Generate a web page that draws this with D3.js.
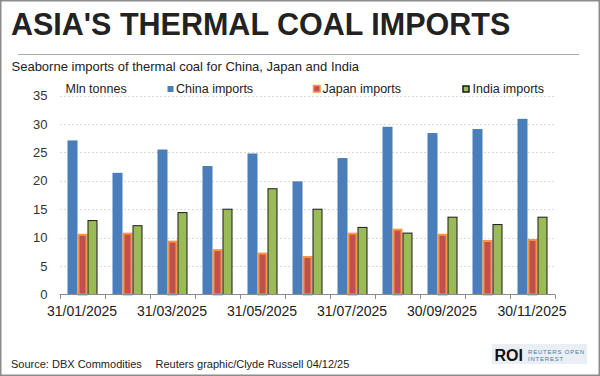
<!DOCTYPE html>
<html>
<head>
<meta charset="utf-8">
<script src="https://cdn.jsdelivr.net/npm/d3@7"></script>
<style>
  body { margin: 0; background: #fff; }
  svg { display: block; font-family: "Liberation Sans", Arial, sans-serif; }
</style>
</head>
<body>
<svg width="600" height="376"></svg>
<script>
// month-end dates (categories)
const dates = ["31/01/2025","28/02/2025","31/03/2025","30/04/2025","31/05/2025","30/06/2025",
               "31/07/2025","31/08/2025","30/09/2025","31/10/2025","30/11/2025"];
// Mln tonnes
const china = [27.1, 21.4, 25.5, 22.6, 24.8, 19.9, 24.0, 29.5, 28.4, 29.1, 30.9];
const japan = [10.5, 10.7, 9.3, 7.8, 7.2, 6.6, 10.7, 11.4, 10.5, 9.4, 9.6];
const india = [13.0, 12.1, 14.4, 15.0, 18.6, 15.0, 11.8, 10.8, 13.6, 12.3, 13.6];
const seriesNames = ["China imports", "Japan imports", "India imports"];
const yTicks = [0, 5, 10, 15, 20, 25, 30, 35];

const svg = d3.select("svg");
const width = +svg.attr("width");
const height = +svg.attr("height");

const fills = { "China imports": "#4a7ebb", "Japan imports": "#c0504d", "India imports": "#9bbb59" };
const strokes = { "China imports": "none", "Japan imports": "#f79646", "India imports": "#1a1a1a" };
const strokeW = { "China imports": 0, "Japan imports": 2, "India imports": 1 };

// frame
svg.append("rect")
  .attr("x", 0.75).attr("y", 0.75)
  .attr("width", width - 1.5).attr("height", height - 1.5)
  .attr("fill", "#fff").attr("stroke", "#8c8c8c").attr("stroke-width", 1.5);

// title + subtitle
svg.append("text")
  .attr("x", 11).attr("y", 34.5)
  .attr("font-size", 30.5).attr("font-weight", "bold").attr("fill", "#222")
  .text("ASIA'S THERMAL COAL IMPORTS");

svg.append("line")
  .attr("x1", 18).attr("x2", 579).attr("y1", 54.5).attr("y2", 54.5)
  .attr("stroke", "#aaa").attr("stroke-width", 1);

svg.append("text")
  .attr("x", 11.5).attr("y", 71)
  .attr("font-size", 13).attr("fill", "#222")
  .text("Seaborne imports of thermal coal for China, Japan and India");

// scales
const x0 = d3.scaleBand().domain(dates).range([59.5, 554.5]).padding(0);
const x1 = d3.scaleBand().domain(seriesNames).range([8, 38]).padding(0);
const y = d3.scaleLinear().domain([0, 35]).range([294.5, 95.5]);

// gridlines
svg.append("g")
  .selectAll("line")
  .data(yTicks.filter(d => d > 0))
  .enter().append("line")
    .attr("x1", 60).attr("x2", 555)
    .attr("y1", d => Math.round(y(d)) + 0.5).attr("y2", d => Math.round(y(d)) + 0.5)
    .attr("stroke", "#d9d9d9").attr("stroke-dasharray", "2,2");

// y axis labels
const yAxis = svg.append("g")
  .attr("transform", "translate(47.5,0)")
  .call(d3.axisLeft(y).tickValues(yTicks).tickSize(0).tickPadding(0));
yAxis.select(".domain").remove();
yAxis.selectAll("text")
  .attr("font-size", 13).attr("fill", "#333")
  .attr("font-family", "'Liberation Sans', Arial, sans-serif");

// bars
const rows = dates.map((d, i) => ({ date: d, values: [china[i], japan[i], india[i]] }));
const groups = svg.append("g")
  .selectAll("g")
  .data(rows)
  .enter().append("g")
    .attr("transform", d => `translate(${x0(d.date)},0)`);

groups.selectAll("rect")
  .data(d => d.values.map((v, k) => ({ key: seriesNames[k], value: v })))
  .enter().append("rect")
    .attr("x", d => x1(d.key) + strokeW[d.key] / 2)
    .attr("width", d => x1.bandwidth() - strokeW[d.key])
    .attr("y", d => y(d.value))
    .attr("height", d => y(0) - y(d.value))
    .attr("fill", d => fills[d.key])
    .attr("stroke", d => strokes[d.key])
    .attr("stroke-width", d => strokeW[d.key]);

// x axis: baseline + boundary ticks
const xg = svg.append("g");
xg.append("line")
  .attr("x1", 59.5).attr("x2", 555).attr("y1", 294.5).attr("y2", 294.5)
  .attr("stroke", "#8c8c8c");
xg.selectAll(".tk")
  .data(dates.map(d => x0(d)).concat([x0.range()[1]]))
  .enter().append("line")
    .attr("x1", d => Math.round(d) + 0.5).attr("x2", d => Math.round(d) + 0.5)
    .attr("y1", 294.5).attr("y2", 299)
    .attr("stroke", "#8c8c8c");

const xAxis = svg.append("g")
  .attr("transform", "translate(0,294.5)")
  .call(d3.axisBottom(x0).tickValues(dates.filter((d, i) => i % 2 === 0)).tickSize(0).tickPadding(0));
xAxis.select(".domain").remove();
xAxis.selectAll("text")
  .attr("dy", null).attr("y", 21)
  .attr("font-size", 14).attr("fill", "#222")
  .attr("font-family", "'Liberation Sans', Arial, sans-serif");

// legend
svg.append("text")
  .attr("x", 65.5).attr("y", 92.5)
  .attr("font-size", 12.5).attr("fill", "#222")
  .text("Mln tonnes");

const legendX = [167, 312.5, 462.5];
const leg = svg.append("g")
  .selectAll("g")
  .data(seriesNames)
  .enter().append("g")
    .attr("transform", (d, i) => `translate(${legendX[i]},0)`);
leg.append("rect")
  .attr("x", d => d === "Japan imports" ? 1 : 0.5)
  .attr("y", d => d === "Japan imports" ? 85.5 : 86)
  .attr("width", d => d === "Japan imports" ? 6.5 : 6)
  .attr("height", d => d === "Japan imports" ? 6.5 : 6)
  .attr("fill", d => fills[d])
  .attr("stroke", d => strokes[d])
  .attr("stroke-width", d => strokeW[d] ? 1.5 : 0);
leg.append("text")
  .attr("x", d => d === "China imports" ? 9 : 10)
  .attr("y", 92.5)
  .attr("font-size", 12.5).attr("fill", "#222")
  .text(d => d);

// footer
svg.append("text")
  .attr("x", 11).attr("y", 367.5)
  .attr("font-size", 11).attr("fill", "#222")
  .text("Source: DBX Commodities");
svg.append("text")
  .attr("x", 155.5).attr("y", 367.5)
  .attr("font-size", 11).attr("fill", "#222")
  .text("Reuters graphic/Clyde Russell 04/12/25");

// ROI badge
const roi = svg.append("g");
roi.append("rect")
  .attr("x", 492).attr("y", 344).attr("width", 95).attr("height", 20)
  .attr("fill", "#e9eff5");
roi.append("text")
  .attr("x", 494.5).attr("y", 361)
  .attr("font-size", 16).attr("font-weight", "bold").attr("fill", "#111")
  .text("ROI");
roi.append("text")
  .attr("x", 528).attr("y", 353.5)
  .attr("font-size", 6).attr("fill", "#4d77a3").attr("letter-spacing", 0.8)
  .text("REUTERS OPEN");
roi.append("text")
  .attr("x", 528).attr("y", 360.5)
  .attr("font-size", 6).attr("fill", "#4d77a3").attr("letter-spacing", 0.8)
  .text("INTEREST");
</script>
</body>
</html>
